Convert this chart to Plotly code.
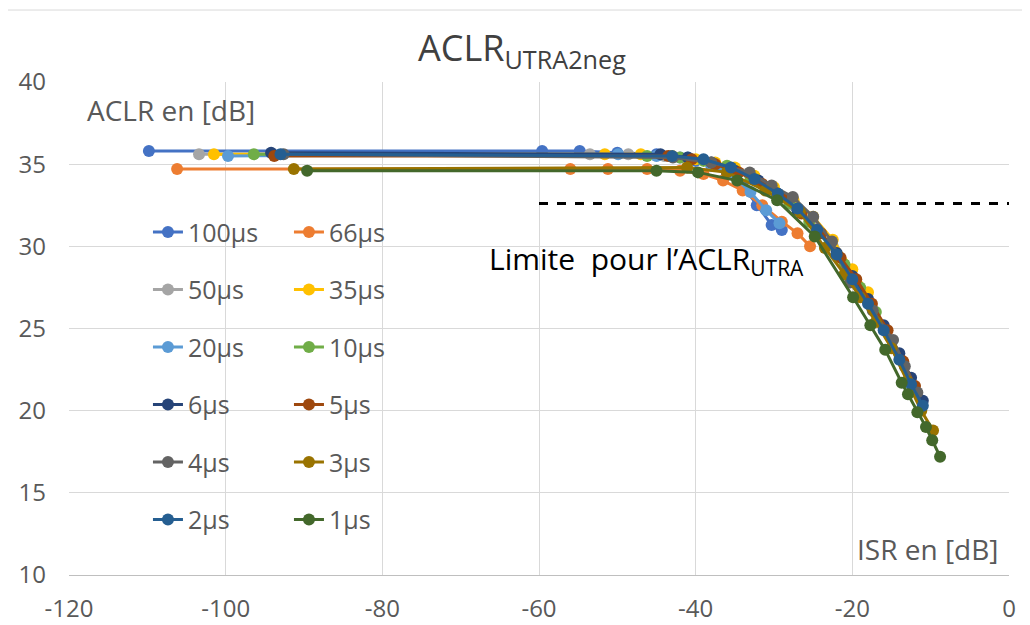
import plotly.graph_objects as go

# ---------------- data ----------------
labels = ["100µs", "66µs", "50µs", "35µs", "20µs", "10µs",
          "6µs", "5µs", "4µs", "3µs", "2µs", "1µs"]
colors = ["#4472C4", "#ED7D31", "#A5A5A5", "#FFC000", "#5B9BD5", "#70AD47",
          "#264478", "#9E480E", "#636363", "#997300", "#255E91", "#43682B"]

isr_100 = [-109.8, -59.6, -54.8, -50, -45, -42, -40, -38, -36, -34, -32.2, -30.3, -29]
aclr_100 = [35.8, 35.8, 35.8, 35.7, 35.6, 35.4, 35.2, 34.9, 34.4, 33.7, 32.5, 31.3, 31.0]

isr_66 = [-106.2, -56, -51.2, -46.2, -42, -39, -36.5, -34, -31.5, -29, -27, -25.4]
aclr_66 = [34.7, 34.7, 34.7, 34.7, 34.6, 34.4, 34.0, 33.4, 32.5, 31.5, 30.8, 30.0]

isr_50 = [-103.4, -53.5, -48.6, -44, -41, -38, -35, -32.5, -30, -27.5, -25, -22.5]
aclr_50 = [35.6, 35.6, 35.6, 35.5, 35.3, 35.1, 34.7, 34.1, 33.4, 32.5, 31.4, 30.0]

isr_35 = [-101.5, -51.6, -47, -43, -40, -37.5, -35, -32.5, -30, -27.5, -25, -22.5, -20, -18]
aclr_35 = [35.6, 35.6, 35.6, 35.5, 35.3, 35.1, 34.8, 34.3, 33.6, 32.8, 31.8, 30.4, 28.6, 27.2]

isr_20 = [-99.7, -49.9, -45, -41, -38, -35.5, -33, -31, -29.3]
aclr_20 = [35.5, 35.6, 35.5, 35.4, 35.0, 34.4, 33.3, 32.2, 31.4]

isr_10 = [-96.4, -46.2, -42, -39, -36, -33, -30.5, -28, -25.5, -23, -21, -19, -17]
aclr_10 = [35.6, 35.5, 35.4, 35.2, 34.9, 34.2, 33.5, 32.6, 31.5, 30.1, 28.9, 27.5, 26.0]

isr_6 = [-94.2, -44.5, -41, -38, -35, -32, -29.5, -27, -24.5, -22, -20, -18, -16, -14, -12.5, -11]
aclr_6 = [35.7, 35.6, 35.4, 35.1, 34.6, 34.0, 33.2, 32.2, 31.0, 29.6, 28.2, 26.8, 25.2, 23.5, 22.0, 20.6]

isr_5 = [-93.8, -43.5, -40.5, -37.5, -34.5, -31.5, -29, -26.5, -24, -21.5, -19.5, -17.5, -15.5, -13.5, -12]
aclr_5 = [35.5, 35.5, 35.3, 35.0, 34.5, 33.8, 33.0, 32.0, 30.8, 29.3, 28.0, 26.5, 24.9, 23.0, 21.5]

isr_4 = [-92.6, -42.9, -38, -33.1, -30.3, -27.6, -25, -22.6, -20.3, -17.4, -14.8, -13.3, -11.7]
aclr_4 = [35.6, 35.4, 35.1, 34.5, 33.7, 33.0, 31.8, 30.3, 27.8, 26.1, 24.3, 22.7, 21.1]

isr_3 = [-91.3, -41.1, -36, -31.1, -26.7, -23.5, -21, -19, -17, -15, -13, -11.2, -9.7]
aclr_3 = [34.7, 34.8, 34.5, 33.4, 32.1, 29.9, 28.3, 26.9, 25.4, 23.8, 21.8, 20.0, 18.8]

isr_2 = [-93.0, -43, -39, -35.5, -32.5, -29.5, -27, -24.5, -22, -20, -18, -16, -14, -12.5, -11]
aclr_2 = [35.6, 35.5, 35.3, 34.8, 34.1, 33.2, 32.3, 31.0, 29.5, 28.0, 26.5, 24.9, 23.1, 21.6, 20.3]

isr_1 = [-89.6, -45, -39.7, -34.7, -29.6, -24.8, -19.9, -17.7, -15.8, -13.7, -12.9, -11.7, -10.6, -9.8, -8.8]
aclr_1 = [34.6, 34.6, 34.5, 34.0, 32.8, 30.6, 26.9, 25.2, 23.7, 21.7, 21.0, 19.9, 19.0, 18.2, 17.2]

series_x = [isr_100, isr_66, isr_50, isr_35, isr_20, isr_10, isr_6, isr_5, isr_4, isr_3, isr_2, isr_1]
series_y = [aclr_100, aclr_66, aclr_50, aclr_35, aclr_20, aclr_10, aclr_6, aclr_5, aclr_4, aclr_3, aclr_2, aclr_1]

limit_x = [-60, 0]
limit_y = [32.6, 32.6]

x_ticks = [-120, -100, -80, -60, -40, -20, 0]
y_ticks = [10, 15, 20, 25, 30, 35, 40]

FONT = "Open Sans, Lato, sans-serif"

fig = go.Figure()

# dashed limit line
fig.add_trace(go.Scatter(x=limit_x, y=limit_y, mode="lines",
                         line=dict(color="black", width=3, dash="dash"),
                         showlegend=False, hoverinfo="skip"))

for i, (lab, col, xs, ys) in enumerate(zip(labels, colors, series_x, series_y)):
    fig.add_trace(go.Scatter(
        x=xs, y=ys, name=lab, mode="lines+markers",
        line=dict(color=col, width=3),
        marker=dict(color=col, size=12),
        legendgroup=lab,
        legend="legend" if i % 2 == 0 else "legend2",
    ))

legend_common = dict(
    font=dict(family=FONT, size=25, color="#595959"),
    bgcolor="rgba(0,0,0,0)",
    tracegroupgap=22,
    yanchor="top",
    xanchor="left",
    itemwidth=30,
)

fig.update_layout(
    width=1030, height=625,
    margin=dict(l=61, r=29, t=74, b=58, autoexpand=False),
    paper_bgcolor="white",
    plot_bgcolor="white",
    font=dict(family=FONT, color="#595959"),
    legend=dict(x=0.084, y=0.742, **legend_common),
    legend2=dict(x=0.234, y=0.742, **legend_common),
    xaxis=dict(range=[-120, 0], tickvals=x_ticks, ticktext=[str(v) for v in x_ticks],
               showgrid=True, gridcolor="#D9D9D9", gridwidth=1,
               showline=True, linecolor="#BFBFBF", linewidth=1,
               zeroline=False, ticks="", tickfont=dict(size=24, color="#595959"),
               ticklabelstandoff=12, automargin=False),
    yaxis=dict(range=[10, 40], tickvals=y_ticks, ticktext=[str(v) for v in y_ticks],
               showgrid=True, gridcolor="#D9D9D9", gridwidth=1,
               showline=False, zeroline=False, ticks="",
               tickfont=dict(size=24, color="#595959"), ticklabelstandoff=22,
               automargin=False),
    annotations=[
        dict(text="ACLR<sub>UTRA2neg</sub>", xref="paper", yref="paper",
             x=0.482, y=1.0, yshift=4, xanchor="center", yanchor="bottom", showarrow=False,
             font=dict(family=FONT, size=36, color="#404040")),
        dict(text="ACLR en [dB]", xref="paper", yref="paper",
             x=0.017, y=0.943, xanchor="left", yanchor="middle", showarrow=False,
             font=dict(family=FONT, size=28, color="#595959")),
        dict(text="ISR en [dB]", xref="paper", yref="paper",
             x=0.99, y=0.053, xanchor="right", yanchor="middle", showarrow=False,
             font=dict(family=FONT, size=28, color="#595959")),
        dict(text="Limite  pour l’ACLR<sub>UTRA</sub>", xref="paper", yref="paper",
             x=0.445, y=0.639, xanchor="left", yanchor="middle", showarrow=False,
             font=dict(family=FONT, size=30, color="black")),
    ],
    shapes=[dict(type="line", xref="paper", yref="paper", x0=-0.08, x1=1.03,
                 y0=1.146, y1=1.146, line=dict(color="#D9D9D9", width=1))],
)

fig.write_html("out.html")
